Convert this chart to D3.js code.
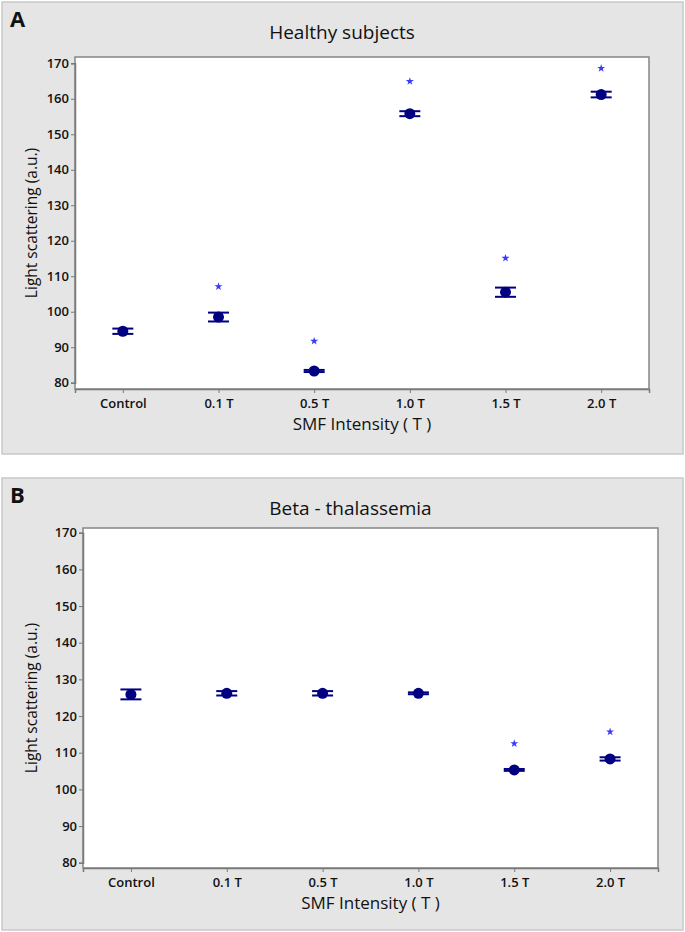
<!DOCTYPE html>
<html>
<head>
<meta charset="utf-8">
<script src="https://cdn.jsdelivr.net/npm/d3@7"></script>
<style>
  body { margin: 0; background: #fff; }
  svg text { font-family: "Open Sans", "Noto Sans", sans-serif; }
</style>
</head>
<body>
<div id="chart"></div>
<script>
// Data
const categories = ["Control", "0.1 T", "0.5 T", "1.0 T", "1.5 T", "2.0 T"];
const yTicks = [80, 90, 100, 110, 120, 130, 140, 150, 160, 170];

const healthyMean = [94.5, 98.5, 83.3, 155.8, 105.5, 161.2];
const healthyErr = [0.75, 1.25, 0.3, 0.7, 1.3, 0.8];
const healthyStar = [null, 107.1, 91.7, 164.9, 115.1, 168.6];

const thalMean = [125.9, 126.2, 126.2, 126.2, 105.3, 108.3];
const thalErr = [1.35, 0.6, 0.6, 0.25, 0.25, 0.45];
const thalStar = [null, null, null, null, 112.5, 115.7];

const width = 685, height = 932;
const navy = "#000080";
const starBlue = "#3a3aff";

const svg = d3.select("#chart").append("svg")
  .attr("width", width)
  .attr("height", height);

function drawPanel(opts) {
  const { letter, title, mean, err, star, box, plot, yRange } = opts;
  const g = svg.append("g");

  // panel background
  g.append("rect")
    .attr("x", box.x).attr("y", box.y)
    .attr("width", box.w).attr("height", box.h)
    .attr("fill", "#e5e5e5")
    .attr("stroke", "#c9c9c9")
    .attr("stroke-width", 1.5);

  g.append("text")
    .attr("x", box.x + 8).attr("y", box.y + 25)
    .attr("font-size", 22).attr("font-weight", 700)
    .attr("fill", "#111")
    .text(letter);

  const x = d3.scalePoint().domain(categories).range([plot.x0, plot.x1]).padding(0.5);
  const y = d3.scaleLinear().domain([80, 170]).range(yRange);

  g.append("text")
    .attr("x", (plot.x0 + plot.x1) / 2 - 20).attr("y", box.y + 37)
    .attr("text-anchor", "middle")
    .attr("font-size", 19).attr("fill", "#111")
    .text(title);

  // plot area
  g.append("rect")
    .attr("x", plot.x0).attr("y", plot.y0)
    .attr("width", plot.x1 - plot.x0).attr("height", plot.y1 - plot.y0)
    .attr("fill", "#fff")
    .attr("stroke", "#858585")
    .attr("stroke-width", 1.5);

  // axes
  const yAxis = g.append("g")
    .attr("transform", `translate(${plot.x0},0)`)
    .call(d3.axisLeft(y).tickValues(yTicks).tickSize(4).tickPadding(2));
  const xAxis = g.append("g")
    .attr("transform", `translate(0,${plot.y1})`)
    .call(d3.axisBottom(x).tickSize(4).tickPadding(6));

  [yAxis, xAxis].forEach(a => {
    a.select(".domain").attr("stroke", "#7a7a7a").attr("stroke-width", 1.5);
    a.selectAll(".tick line").attr("stroke", "#7a7a7a");
    a.selectAll(".tick text")
      .attr("font-family", "'Open Sans', sans-serif")
      .attr("font-size", 13).attr("font-weight", 600)
      .attr("fill", "#111");
  });

  g.append("text")
    .attr("transform", `translate(${box.x + 35},${(plot.y0 + plot.y1) / 2}) rotate(-90)`)
    .attr("text-anchor", "middle")
    .attr("font-size", 15.5).attr("fill", "#111")
    .text("Light scattering (a.u.)");

  g.append("text")
    .attr("x", (plot.x0 + plot.x1) / 2).attr("y", plot.y1 + 41)
    .attr("text-anchor", "middle")
    .attr("font-size", 17).attr("fill", "#111")
    .text("SMF Intensity ( T )");

  const pts = categories.map((c, i) => ({ c, m: mean[i], e: err[i], s: star[i] }));

  // error bars
  const eb = g.append("g").attr("stroke", navy).attr("stroke-width", 2);
  eb.selectAll("line.v").data(pts).join("line")
    .attr("x1", d => x(d.c)).attr("x2", d => x(d.c))
    .attr("y1", d => y(d.m + d.e)).attr("y2", d => y(d.m - d.e));
  eb.selectAll("line.top").data(pts).join("line")
    .attr("x1", d => x(d.c) - 10.5).attr("x2", d => x(d.c) + 10.5)
    .attr("y1", d => y(d.m + d.e)).attr("y2", d => y(d.m + d.e));
  eb.selectAll("line.bot").data(pts).join("line")
    .attr("x1", d => x(d.c) - 10.5).attr("x2", d => x(d.c) + 10.5)
    .attr("y1", d => y(d.m - d.e)).attr("y2", d => y(d.m - d.e));

  // mean points
  g.append("g").selectAll("circle").data(pts).join("circle")
    .attr("cx", d => x(d.c)).attr("cy", d => y(d.m))
    .attr("r", 5.5).attr("fill", navy);

  // significance stars
  g.append("g").selectAll("path").data(pts.filter(d => d.s != null)).join("path")
    .attr("transform", d => `translate(${x(d.c)},${y(d.s)})`)
    .attr("d", d3.symbol(d3.symbolStar, 20))
    .attr("fill", starBlue);
}

drawPanel({
  letter: "A",
  title: "Healthy subjects",
  mean: healthyMean, err: healthyErr, star: healthyStar,
  box: { x: 2, y: 2, w: 681, h: 452 },
  plot: { x0: 75, x1: 649, y0: 57, y1: 389 },
  yRange: [382.7, 63.3]
});

drawPanel({
  letter: "B",
  title: "Beta - thalassemia",
  mean: thalMean, err: thalErr, star: thalStar,
  box: { x: 2, y: 478, w: 681, h: 452 },
  plot: { x0: 83, x1: 658, y0: 528, y1: 868 },
  yRange: [862.7, 532.7]
});
</script>
</body>
</html>
